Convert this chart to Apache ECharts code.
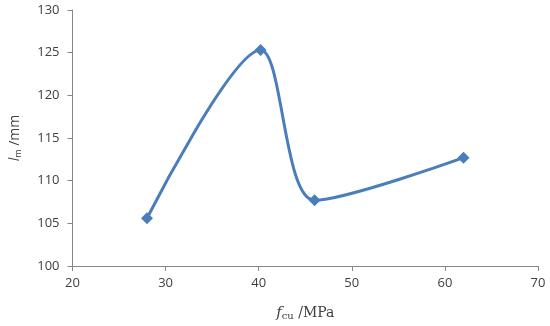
<!DOCTYPE html>
<html>
<head>
<meta charset="utf-8">
<script src="https://cdn.jsdelivr.net/npm/echarts@6/dist/echarts.min.js"></script>
<style>html,body{margin:0;padding:0;background:#fff}#c{width:550px;height:326px}</style>
</head>
<body>
<div id="c"></div>
<script>
const fcu = [28, 40.2, 46, 62];
const lm = [105.6, 125.3, 107.7, 112.7];
const xTicks = [20, 30, 40, 50, 60, 70];
const yTicks = [100, 105, 110, 115, 120, 125, 130];

const chart = echarts.init(document.getElementById('c'), null, {renderer: 'canvas'});
const axisColor = '#868686';
const labelStyle = {color: '#404040', fontSize: 13, fontFamily: 'Open Sans'};
chart.setOption({
  animation: false,
  grid: {left: 66, top: 10, right: 12, bottom: 59},
  xAxis: {
    type: 'value', min: xTicks[0], max: xTicks[xTicks.length - 1], interval: 10,
    axisLine: {show: true, lineStyle: {color: axisColor, width: 1}},
    axisTick: {show: true, length: 5, lineStyle: {color: axisColor}},
    splitLine: {show: false},
    axisLabel: Object.assign({margin: 11}, labelStyle),
    name: '{i|f}{s|cu}{n| /MPa}',
    nameLocation: 'middle', nameGap: 39,
    nameTextStyle: {
      rich: {
        i: {fontFamily: 'DejaVu Serif', fontStyle: 'italic', fontSize: 15, color: '#404040'},
        s: {fontFamily: 'DejaVu Serif', fontSize: 10, color: '#404040', verticalAlign: 'bottom', padding: [6, 0, 0, 0]},
        n: {fontFamily: 'DejaVu Serif', fontSize: 14, color: '#404040'}
      }
    }
  },
  yAxis: {
    type: 'value', min: yTicks[0], max: yTicks[yTicks.length - 1], interval: 5,
    axisLine: {show: true, lineStyle: {color: axisColor, width: 1}},
    axisTick: {show: true, length: 5, lineStyle: {color: axisColor}},
    splitLine: {show: false},
    axisLabel: Object.assign({margin: 13}, labelStyle),
    name: '{i|l}{s|m}{n| /mm}',
    nameLocation: 'middle', nameGap: 50, nameRotate: 90,
    nameTextStyle: {
      rich: {
        i: {fontFamily: 'Open Sans', fontStyle: 'italic', fontSize: 14, color: '#404040'},
        s: {fontFamily: 'Open Sans', fontSize: 9, color: '#404040', verticalAlign: 'bottom', padding: [6, 0, 0, 0]},
        n: {fontFamily: 'Open Sans', fontSize: 14, color: '#404040'}
      }
    }
  },
  series: [{
    type: 'line',
    data: fcu.map((x, i) => [x, lm[i]]),
    smooth: 0.3,
    symbol: 'diamond',
    symbolSize: 12,
    lineStyle: {color: '#4A7EBB', width: 3},
    itemStyle: {color: '#4A7EBB'}
  }]
});
</script>
</body>
</html>
